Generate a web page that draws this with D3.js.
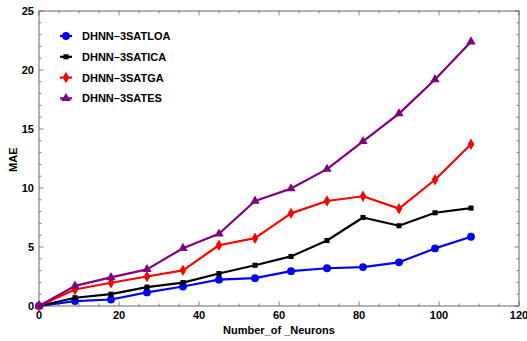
<!DOCTYPE html>
<html>
<head>
<meta charset="utf-8">
<script src="https://cdn.jsdelivr.net/npm/d3@7"></script>
<style>
  body { margin: 0; background: #fff; }
  text { font-family: "Liberation Sans", Arial, sans-serif; font-weight: bold; }
</style>
</head>
<body>
<div id="chart"></div>
<script>
var neurons = [0, 9, 18, 27, 36, 45, 54, 63, 72, 81, 90, 99, 108];
var loa = [0, 0.42, 0.55, 1.15, 1.65, 2.23, 2.36, 2.95, 3.2, 3.3, 3.7, 4.88, 5.87];
var ica = [0, 0.7, 1.0, 1.6, 1.98, 2.75, 3.45, 4.2, 5.55, 7.5, 6.8, 7.9, 8.3];
var ga = [0, 1.4, 1.97, 2.5, 3.02, 5.15, 5.75, 7.85, 8.9, 9.3, 8.25, 10.7, 13.7];
var es = [0, 1.7, 2.42, 3.1, 4.9, 6.12, 8.9, 9.95, 11.6, 13.95, 16.3, 19.2, 22.4];
var seriesNames = ["DHNN\u20133SATLOA", "DHNN\u20133SATICA", "DHNN\u20133SATGA", "DHNN\u20133SATES"];
var seriesColors = ["#0000ff", "#000000", "#ff0000", "#800080"];
var xTicks = [0, 20, 40, 60, 80, 100, 120];
var yTicks = [0, 5, 10, 15, 20, 25];

var W = 527, H = 341;
var margin = {top: 11, right: 8, bottom: 35, left: 39};
var width = W - margin.left - margin.right,
    height = H - margin.top - margin.bottom;

var svg = d3.select("#chart").append("svg")
    .attr("width", W).attr("height", H);
var g = svg.append("g")
    .attr("transform", "translate(" + margin.left + "," + margin.top + ")");

var x = d3.scaleLinear().domain([0, 120]).range([0, width]);
var y = d3.scaleLinear().domain([0, 25]).range([height, 0]);

// frame
g.append("rect").attr("width", width).attr("height", height)
    .attr("fill", "none").attr("stroke", "#666").attr("stroke-width", 1);

// minor + major ticks on all four sides
var frameColor = "#666";
function addTicks(vals, len, side) {
  vals.forEach(function(v) {
    var l = g.append("line").attr("stroke", frameColor).attr("stroke-width", 0.8);
    if (side == "bottom") l.attr("x1", x(v)).attr("x2", x(v)).attr("y1", height).attr("y2", height - len);
    if (side == "top") l.attr("x1", x(v)).attr("x2", x(v)).attr("y1", 0).attr("y2", len);
    if (side == "left") l.attr("y1", y(v)).attr("y2", y(v)).attr("x1", 0).attr("x2", len);
    if (side == "right") l.attr("y1", y(v)).attr("y2", y(v)).attr("x1", width).attr("x2", width - len);
  });
}
var xMinor = d3.range(0, 121, 5).filter(function(v) { return v % 20 != 0; });
var yMinor = d3.range(0, 26, 1).filter(function(v) { return v % 5 != 0; });
["bottom", "top"].forEach(function(s) { addTicks(xTicks, 4.5, s); addTicks(xMinor, 2.5, s); });
["left", "right"].forEach(function(s) { addTicks(yTicks, 4.5, s); addTicks(yMinor, 2.5, s); });

// tick labels
g.selectAll(".xl").data(xTicks).enter().append("text")
    .attr("x", function(d) { return x(d); })
    .attr("y", height + 13)
    .attr("text-anchor", "middle")
    .attr("font-size", "11px")
    .text(function(d) { return d; });
g.selectAll(".yl").data(yTicks).enter().append("text")
    .attr("x", -5)
    .attr("y", function(d) { return y(d) + 4; })
    .attr("text-anchor", "end")
    .attr("font-size", "11px")
    .text(function(d) { return d; });

// axis titles
svg.append("text")
    .attr("x", margin.left + x(60))
    .attr("y", 334)
    .attr("text-anchor", "middle")
    .attr("font-size", "11px")
    .text("Number_of _Neurons");
svg.append("text")
    .attr("transform", "translate(17," + (margin.top + y(12.4)) + ") rotate(-90)")
    .attr("text-anchor", "middle")
    .attr("font-size", "11px")
    .text("MAE");

// marker shapes
var symbols = [
  d3.symbol().type(d3.symbolCircle).size(48),
  d3.symbol().type(d3.symbolSquare).size(26),
  d3.symbol().type(d3.symbolDiamond).size(38),
  d3.symbol().type(d3.symbolTriangle).size(38)
];

var allSeries = [loa, ica, ga, es];
var line = d3.line()
    .x(function(d) { return x(d[0]); })
    .y(function(d) { return y(d[1]); });

allSeries.forEach(function(vals, i) {
  var pts = neurons.map(function(n, j) { return [n, vals[j]]; });
  g.append("path").datum(pts)
      .attr("fill", "none")
      .attr("stroke", seriesColors[i])
      .attr("stroke-width", 2.2)
      .attr("stroke-linejoin", "round")
      .attr("d", line);
  g.selectAll(".m" + i).data(pts).enter().append("path")
      .attr("transform", function(d) { return "translate(" + x(d[0]) + "," + y(d[1]) + ")"; })
      .attr("d", symbols[i])
      .attr("fill", seriesColors[i]);
});

// legend
var legend = svg.append("g").attr("transform", "translate(60,36)");
seriesNames.forEach(function(name, i) {
  var row = legend.append("g").attr("transform", "translate(0," + (i * 20.8) + ")");
  row.append("line").attr("x1", 0).attr("x2", 12).attr("y1", 0).attr("y2", 0)
      .attr("stroke", seriesColors[i]).attr("stroke-width", 2.2);
  row.append("path").attr("transform", "translate(6,0)").attr("d", symbols[i])
      .attr("fill", seriesColors[i]);
  row.append("text").attr("x", 22).attr("y", 4).attr("font-size", "11px").text(name);
});
</script>
</body>
</html>
